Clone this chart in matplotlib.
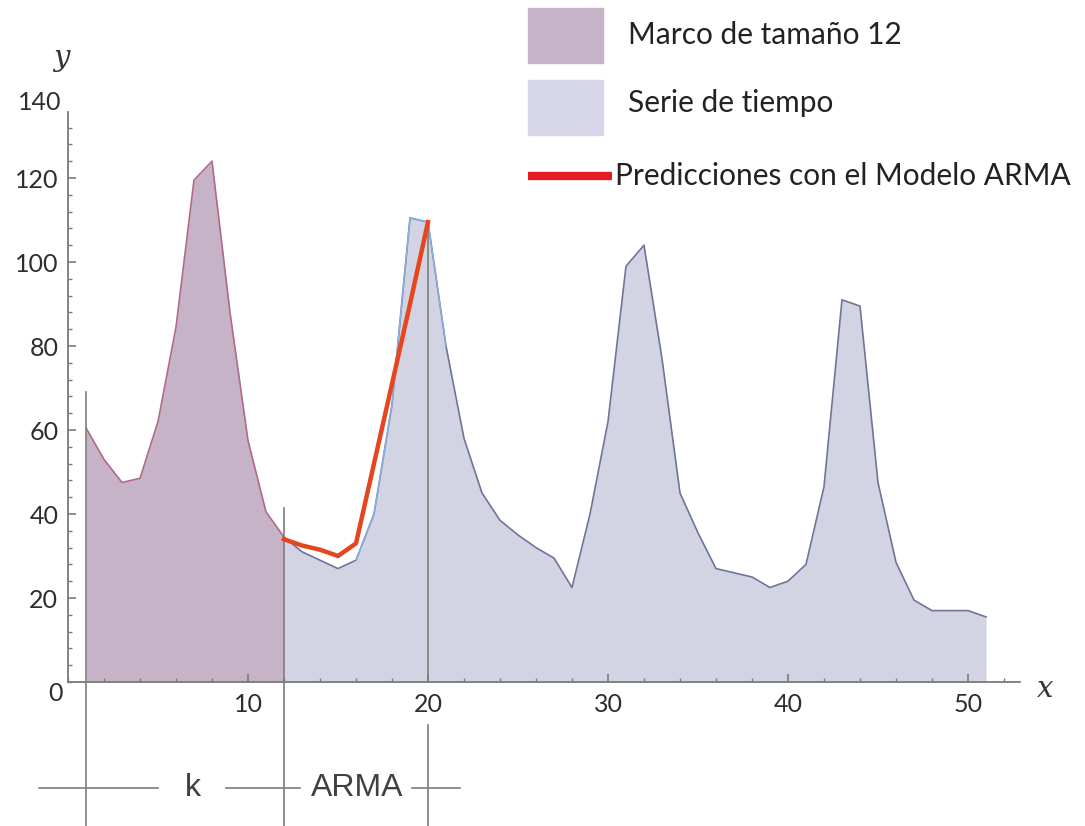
import matplotlib
matplotlib.use("Agg")
import matplotlib.pyplot as plt
from matplotlib.patches import Rectangle
from matplotlib.lines import Line2D

# serie de tiempo (t = 1..51)
t = list(range(1, 52))
serie = [60.5, 53, 47.5, 48.5, 62, 84.5, 119.5, 124, 88, 57.5,
         40.5, 34.5, 31, 29, 27, 29, 40, 66, 110.5, 109.5,
         80, 58, 45, 38.5, 35, 32, 29.5, 22.5, 40, 62,
         99, 104, 77, 45, 35.5, 27, 26, 25, 22.5, 24,
         28, 46.5, 91, 89.5, 47.5, 28.5, 19.5, 17, 17, 17,
         15.5]

k = 12          # marco de tamaño 12
fin_arma = 20   # ultimo punto predicho

# predicciones ARMA para t = 12..20
t_arma = list(range(12, 21))
pred_arma = [34, 32.5, 31.5, 30, 33, 52, 71, 90, 109.5]

yticks = [20, 40, 60, 80, 100, 120]
xticks = [10, 20, 30, 40, 50]

W, H = 1085, 826
fig = plt.figure(figsize=(W / 100, H / 100), dpi=100)
ax = fig.add_axes([0, 0, 1, 1])

# escala: origen en (68, 682) px, 18 px por unidad en x, 4.2 px por unidad en y
ax.set_xlim(-68 / 18, (W - 68) / 18)
ax.set_ylim(-(H - 682) / 4.2, 682 / 4.2)

lila = "#c7b3c8"
lavanda = "#d2d4e3"

# serie completa desde k
tk = t[k - 1:]
sk = serie[k - 1:]
ax.fill_between(tk, sk, 0, color=lavanda, lw=0, zorder=1)
ax.plot(tk, sk, color="#6f7499", lw=1.2, zorder=2)
ax.plot(t[15:21], serie[15:21], color="#8db0e2", lw=1.0, zorder=2)

# marco de tamaño k
ax.fill_between(t[:k], serie[:k], 0, color=lila, lw=0, zorder=1)
ax.plot(t[:k], serie[:k], color="#b06a86", lw=1.2, zorder=2)

# predicciones
ax.plot(t_arma, pred_arma, color="#e6451d", lw=3.2, solid_joinstyle="round", zorder=4)

# lineas verticales de los intervalos
gris = "#7d7d7d"
ax.plot([1, 1], [69, ax.get_ylim()[0]], color=gris, lw=1.2, zorder=3)
ax.plot([k, k], [41.5, ax.get_ylim()[0]], color=gris, lw=1.2, zorder=3)
ax.plot([fin_arma, fin_arma], [pred_arma[-1], 0], color=gris, lw=1.2, zorder=3)
ax.plot([fin_arma, fin_arma], [-10.2, ax.get_ylim()[0]], color=gris, lw=1.2, zorder=3)

# llaves k y ARMA
yb = -25.2
ax.plot([-1.6, 5.0], [yb, yb], color=gris, lw=1.2)
ax.plot([8.8, 12.9], [yb, yb], color=gris, lw=1.2)
ax.plot([19.1, 21.8], [yb, yb], color=gris, lw=1.2)
ax.text(6.95, yb, "k", fontsize=23, family="Liberation Sans", color="#404040",
        ha="center", va="center")
ax.text(16.05, yb, "ARMA", fontsize=23, family="Liberation Sans", color="#404040",
        ha="center", va="center")

# ejes estilo Mathematica
for s in ["top", "right"]:
    ax.spines[s].set_visible(False)
ax.spines["left"].set_position(("data", 0))
ax.spines["bottom"].set_position(("data", 0))
ax.spines["left"].set_bounds(0, 135.7)
ax.spines["bottom"].set_bounds(0, 52.9)
for s in ["left", "bottom"]:
    ax.spines[s].set_color("#7a7a7a")
    ax.spines[s].set_linewidth(1.3)
    ax.spines[s].set_zorder(5)

ax.set_yticks(yticks)
ax.set_yticks(range(0, 136, 4), minor=True)
ax.set_xticks(xticks)
ax.set_xticks(range(0, 53, 2), minor=True)
ax.tick_params(which="major", direction="in", length=6, width=1.2, color="#7a7a7a",
               labelsize=18, labelcolor="#2e2e2e")
ax.tick_params(which="minor", direction="in", length=3, width=1.0, color="#7a7a7a")
ax.tick_params(axis="y", pad=7)
ax.tick_params(axis="x", pad=8)
for lab in ax.get_xticklabels() + ax.get_yticklabels():
    lab.set_family("Lato")

ax.text(-0.35, 138, "140", fontsize=18, family="Lato", color="#2e2e2e",
        ha="right", va="center")
ax.text(-0.7, -2.7, "0", fontsize=18, family="Lato", color="#2e2e2e",
        ha="center", va="center")
ax.text(-0.35, 148.5, "y", fontsize=21, family="DejaVu Serif", style="italic",
        color="#333333", ha="center", va="center")
ax.text(54.3, -1.7, "x", fontsize=21, family="DejaVu Serif", style="italic",
        color="#333333", ha="center", va="center")


def px(x, y):
    return x / W, 1 - y / H


# leyenda
fig.patches.append(Rectangle(px(528, 63), 75 / W, 55 / H, transform=fig.transFigure,
                             color=lila, zorder=6))
fig.patches.append(Rectangle(px(528, 135), 75 / W, 55 / H, transform=fig.transFigure,
                             color="#d7d7e9", zorder=6))
fig.lines.append(Line2D([528 / W, 612 / W], [1 - 176 / H, 1 - 176 / H],
                        transform=fig.transFigure, color="#e31b23", lw=6,
                        solid_capstyle="butt"))
fig.text(*px(628, 35), "Marco de tamaño 12", fontsize=21.5, family="Lato",
         color="#222222", va="center")
fig.text(*px(628, 103), "Serie de tiempo", fontsize=21.5, family="Lato",
         color="#222222", va="center")
fig.text(*px(615, 176), "Predicciones con el Modelo ARMA", fontsize=21.5, family="Lato",
         color="#222222", va="center")

fig.savefig("out.png", dpi=100)
